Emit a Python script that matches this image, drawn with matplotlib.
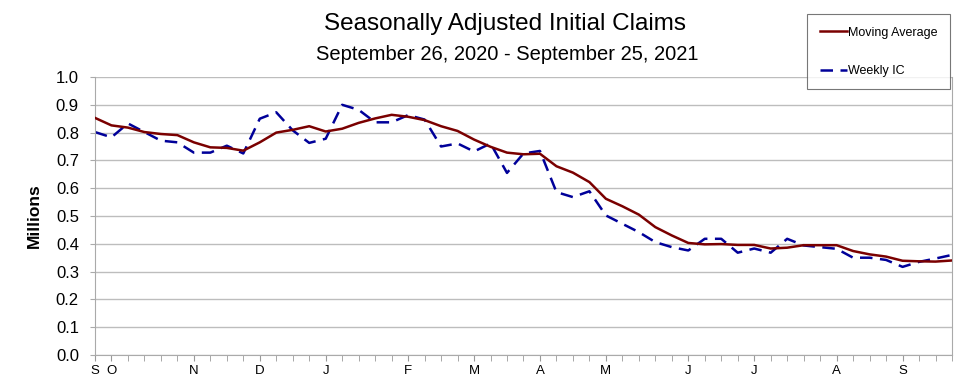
import matplotlib.pyplot as plt

plt.rcParams['font.family'] = ['Liberation Sans', 'DejaVu Sans']

# week index 0 = week ending Sep 26, 2020 ... 52 = Sep 25, 2021
moving_avg = [0.853, 0.826, 0.818, 0.802, 0.795, 0.791, 0.765, 0.747, 0.745, 0.735,
              0.765, 0.800, 0.810, 0.823, 0.804, 0.814, 0.835, 0.851, 0.864, 0.857,
              0.845, 0.823, 0.806, 0.775, 0.749, 0.728, 0.722, 0.724, 0.679, 0.656,
              0.622, 0.562, 0.535, 0.505, 0.460, 0.430, 0.403, 0.398, 0.399, 0.396,
              0.396, 0.383, 0.386, 0.395, 0.395, 0.395, 0.374, 0.362, 0.354, 0.339,
              0.337, 0.336, 0.340]
weekly_ic = [0.802, 0.783, 0.833, 0.802, 0.771, 0.765, 0.728, 0.728, 0.753, 0.725,
             0.850, 0.873, 0.808, 0.763, 0.778, 0.900, 0.882, 0.837, 0.837, 0.863,
             0.847, 0.750, 0.761, 0.732, 0.761, 0.655, 0.725, 0.734, 0.586, 0.568,
             0.589, 0.502, 0.472, 0.442, 0.406, 0.388, 0.376, 0.418, 0.418, 0.368,
             0.383, 0.368, 0.418, 0.394, 0.388, 0.382, 0.350, 0.350, 0.342, 0.317,
             0.335, 0.347, 0.360]

month_pos = [0, 1, 6, 10, 14, 19, 23, 27, 31, 36, 40, 45, 49]
month_labels = ["S", "O", "N", "D", "J", "F", "M", "A", "M", "J", "J", "A", "S"]

weeks = list(range(len(moving_avg)))

fig = plt.figure(figsize=(9.77, 3.82), dpi=100)
ax = fig.add_axes([0.0972, 0.0707, 0.8772, 0.7277])

ax.plot(weeks, moving_avg, color="#7a0000", lw=1.8, label="Moving Average", zorder=3)
ax.plot(weeks, weekly_ic, color="#000099", lw=1.8, dashes=(5, 3),
        label="Weekly IC", zorder=2)

ax.set_xlim(0, 52)
ax.set_ylim(0, 1.0)
ax.set_yticks([i / 10 for i in range(11)])
ax.set_yticklabels([f"{i / 10:.1f}" for i in range(11)], fontsize=12)
ax.yaxis.grid(True, color="#bdbdbd", lw=1)
ax.set_axisbelow(True)
ax.tick_params(axis="y", length=3.5, color="#aaaaaa", pad=8)

ax.set_xticks(weeks, minor=True)
ax.set_xticks(month_pos)
ax.set_xticklabels(month_labels, fontsize=9.5)
ax.tick_params(axis="x", which="both", direction="out", length=4, color="#999999", pad=3)

for s in ax.spines.values():
    s.set_color("#aaaaaa")
ax.spines["top"].set_visible(False)

ax.set_ylabel("Millions", fontsize=12.5, fontweight="bold", labelpad=10)

fig.text(0.517, 0.937, "Seasonally Adjusted Initial Claims", ha="center", va="center",
         fontsize=17.5)
fig.text(0.519, 0.857, "September 26, 2020 - September 25, 2021", ha="center",
         va="center", fontsize=14.5)

leg = fig.legend(loc="upper left", bbox_to_anchor=(0.826, 0.963), fontsize=9,
                 frameon=True, fancybox=False, labelspacing=2.1, handlelength=2.2,
                 handletextpad=0.1, borderpad=1.0, borderaxespad=0)
leg.get_frame().set_edgecolor("#555555")
leg.get_frame().set_linewidth(0.8)

fig.savefig("out.png", dpi=100)
